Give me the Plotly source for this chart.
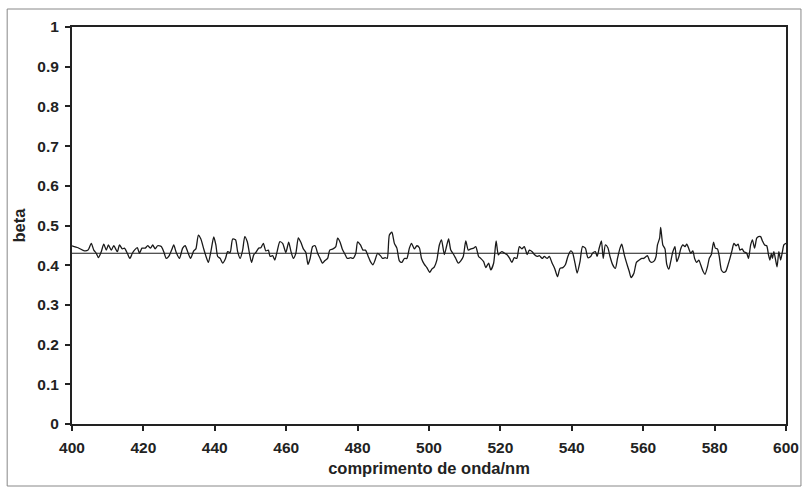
import plotly.graph_objects as go

wavelength = [
    400.0, 401.7, 403.5, 404.5, 405.4, 406.1, 406.8, 407.4, 408.2, 408.9, 409.6, 410.2, 411.0, 411.7,
    412.7, 413.3, 414.1, 414.7, 415.5, 416.2, 416.9, 417.5, 418.3, 418.9, 419.6, 420.5, 421.2, 422.0,
    422.6, 423.3, 424.0, 425.0, 425.7, 426.4, 427.1, 427.9, 428.5, 429.2, 430.1, 431.0, 431.7, 432.4,
    433.2, 434.1, 434.7, 435.4, 436.1, 436.9, 437.4, 438.2, 438.9, 439.7, 440.3,
    440.8, 441.5, 442.2, 443.0, 443.6, 444.3, 445.0, 445.8, 446.4, 447.1, 447.8, 448.4, 449.1, 449.7,
    450.3, 450.9, 451.5, 452.3, 452.9, 453.6, 454.3, 455.0, 455.5, 456.2, 456.8, 457.5, 458.2, 459.0,
    459.9, 460.7, 461.3, 462.0, 462.7, 463.4, 464.1, 464.8, 465.5, 466.1, 466.7, 467.4, 468.1, 468.8,
    469.5, 470.2, 470.8, 471.6, 472.2, 473.1, 473.9, 474.4, 475.1, 475.7, 476.5, 477.1, 478.1, 478.7,
    479.5, 480.0,
    480.8, 481.5, 482.2, 482.9, 483.6, 484.3, 484.9, 485.6, 486.4, 487.0, 487.7, 488.3, 488.9, 489.6,
    490.3, 491.0, 491.7, 492.4, 493.1, 493.8, 494.5, 495.1, 495.9, 496.6, 497.3, 497.9, 498.7, 499.4,
    500.2, 500.8, 501.5, 502.2, 502.9, 503.5, 504.3, 505.0, 505.5, 506.1, 506.9, 507.5, 508.2, 508.9,
    509.6, 510.3, 511.0, 511.7, 512.5, 513.1, 513.9, 514.5, 515.3, 515.9, 516.7, 517.3, 518.1, 518.8,
    519.4,
    519.8, 520.4, 521.2, 521.8, 522.6, 523.2, 523.9, 524.6, 525.3, 526.0, 526.7, 527.5, 528.1, 528.9,
    529.5, 530.3, 530.9, 531.7, 532.3, 533.1, 533.7, 534.5, 535.2, 536.0, 536.7, 537.5, 538.2, 538.9,
    539.7, 540.2, 540.9, 541.5, 542.3, 543.0, 543.8, 544.5, 545.3, 545.8, 546.6, 547.1, 547.7, 548.3,
    548.8, 549.4, 550.1, 550.7, 551.4, 552.2, 552.8, 553.5, 554.0, 554.7, 555.3, 556.1, 556.6, 557.4,
    558.1, 558.9, 559.6,
    560.1, 560.8, 561.2, 561.8, 562.3, 563.1, 563.6, 564.0, 564.6, 564.9, 565.5, 566.1, 566.6, 567.2,
    567.7, 568.3, 568.9, 569.4, 570.0, 570.5, 571.1, 571.7, 572.2, 572.8, 573.3, 573.9, 574.4, 575.0,
    575.6, 576.1, 576.8, 577.3, 578.0, 578.5, 579.1, 579.7, 580.2, 580.8, 581.3, 581.9, 582.5, 583.1,
    583.8, 584.3, 584.9, 585.4, 586.0, 586.6, 587.1, 587.7, 588.2, 589.0, 589.5, 590.1, 590.6, 591.2,
    591.8, 592.3, 592.9, 593.4, 594.0, 594.6, 595.1, 595.5, 595.9, 596.2, 596.6, 597.1, 597.5, 598.0,
    598.5, 599.0, 599.4, 600.0,
]

beta = [
    0.449, 0.444, 0.436, 0.438, 0.455, 0.438, 0.430, 0.419, 0.434, 0.453, 0.438, 0.451, 0.438, 0.449,
    0.434, 0.451, 0.441, 0.443, 0.430, 0.417, 0.430, 0.438, 0.444, 0.430, 0.443, 0.443, 0.449, 0.443,
    0.451, 0.441, 0.449, 0.447, 0.434, 0.417, 0.422, 0.438, 0.451, 0.432, 0.417, 0.443, 0.449, 0.434,
    0.417, 0.436, 0.441, 0.476, 0.466, 0.441, 0.426, 0.407, 0.434, 0.471, 0.451,
    0.422, 0.417, 0.405, 0.417, 0.434, 0.432, 0.466, 0.464, 0.434, 0.417, 0.438, 0.472, 0.459, 0.430,
    0.407, 0.426, 0.432, 0.443, 0.444, 0.455, 0.436, 0.438, 0.422, 0.424, 0.413, 0.436, 0.459, 0.455,
    0.432, 0.458, 0.436, 0.417, 0.430, 0.469, 0.458, 0.441, 0.432, 0.402, 0.417, 0.447, 0.449, 0.430,
    0.417, 0.405, 0.411, 0.417, 0.438, 0.441, 0.447, 0.468, 0.458, 0.441, 0.427, 0.417, 0.419, 0.417,
    0.430, 0.459,
    0.451, 0.438, 0.438, 0.424, 0.409, 0.401, 0.413, 0.430, 0.424, 0.417, 0.419, 0.417, 0.476, 0.483,
    0.455, 0.443, 0.411, 0.407, 0.417, 0.417, 0.443, 0.455, 0.441, 0.449, 0.444, 0.417, 0.402, 0.394,
    0.382, 0.390, 0.396, 0.413, 0.451, 0.464, 0.427, 0.451, 0.466, 0.438, 0.427, 0.417, 0.405, 0.411,
    0.422, 0.461, 0.438, 0.441, 0.443, 0.447, 0.422, 0.417, 0.409, 0.394, 0.405, 0.388, 0.405, 0.461,
    0.426,
    0.430, 0.434, 0.430, 0.427, 0.417, 0.407, 0.419, 0.417, 0.447, 0.441, 0.447, 0.427, 0.438, 0.434,
    0.427, 0.422, 0.424, 0.417, 0.422, 0.417, 0.422, 0.405, 0.392, 0.371, 0.392, 0.394, 0.401, 0.422,
    0.436, 0.432, 0.405, 0.380, 0.409, 0.447, 0.443, 0.419, 0.422, 0.430, 0.434, 0.422, 0.444, 0.461,
    0.417, 0.451, 0.444, 0.422, 0.402, 0.392, 0.417, 0.443, 0.453, 0.426, 0.407, 0.384, 0.369, 0.380,
    0.407, 0.413, 0.417,
    0.417, 0.422, 0.424, 0.411, 0.407, 0.411, 0.422, 0.451, 0.468, 0.495, 0.451, 0.441, 0.402, 0.390,
    0.409, 0.434, 0.447, 0.409, 0.422, 0.441, 0.451, 0.447, 0.453, 0.441, 0.430, 0.436, 0.417, 0.407,
    0.413, 0.401, 0.384, 0.377, 0.396, 0.417, 0.427, 0.458, 0.443, 0.441, 0.422, 0.388, 0.382, 0.384,
    0.402, 0.417, 0.438, 0.455, 0.449, 0.453, 0.438, 0.441, 0.434, 0.430, 0.417, 0.451, 0.464, 0.443,
    0.468, 0.472, 0.472, 0.461, 0.451, 0.449, 0.426, 0.413, 0.430, 0.417, 0.434, 0.413, 0.396, 0.434,
    0.413, 0.434, 0.451, 0.455,
]

mean_x = [400, 600]
mean_beta = [0.43, 0.43]

x_ticks = [400, 420, 440, 460, 480, 500, 520, 540, 560, 580, 600]
x_ticktext = ["400", "420", "440", "460", "480", "500", "520", "540", "560", "580", "600"]
y_ticks = [0, 0.1, 0.2, 0.3, 0.4, 0.5, 0.6, 0.7, 0.8, 0.9, 1.0]
y_ticktext = ["0", "0.1", "0.2", "0.3", "0.4", "0.5", "0.6", "0.7", "0.8", "0.9", "1"]

FONT = "Liberation Sans, Arial, sans-serif"

fig = go.Figure()
fig.add_trace(go.Scatter(x=wavelength, y=beta, mode="lines",
                         line=dict(color="#1a1a1a", width=1.3, shape="spline", smoothing=0.6),
                         showlegend=False))
fig.add_trace(go.Scatter(x=mean_x, y=mean_beta, mode="lines",
                         line=dict(color="#1a1a1a", width=1.1), showlegend=False))

L, R, T, B = 72, 23, 27, 68
W, H = 811, 492
pw, ph = W - L - R, H - T - B

axis_common = dict(showgrid=False, zeroline=False, showline=True, linecolor="#222222",
                   linewidth=2, mirror=True, ticks="outside", ticklen=5, tickwidth=2,
                   tickcolor="#222222",
                   tickfont=dict(family=FONT, size=15.5, color="#222222", weight="bold"))

fig.update_layout(
    width=W, height=H,
    margin=dict(l=L, r=R, t=T, b=B),
    paper_bgcolor="white", plot_bgcolor="white",
    xaxis=dict(range=[400, 600], tickvals=x_ticks, ticktext=x_ticktext,
               ticklabelstandoff=3,
               title=dict(text="<b>comprimento de onda/nm</b>", standoff=8,
                          font=dict(family=FONT, size=16.5, color="#222222")),
               **axis_common),
    yaxis=dict(range=[0, 1], tickvals=y_ticks, ticktext=y_ticktext,
               ticklabelstandoff=3,
               title=dict(text="<b>beta</b>", standoff=8,
                          font=dict(family=FONT, size=16.5, color="#222222")),
               **axis_common),
    shapes=[dict(type="rect", xref="paper", yref="paper",
                 x0=(7 - L) / pw, x1=(803 - L) / pw,
                 y0=(H - B - 486) / ph, y1=(H - B - 9) / ph,
                 line=dict(color="#888888", width=1), fillcolor="rgba(0,0,0,0)",
                 layer="below")],
)

fig.write_html("out.html")
